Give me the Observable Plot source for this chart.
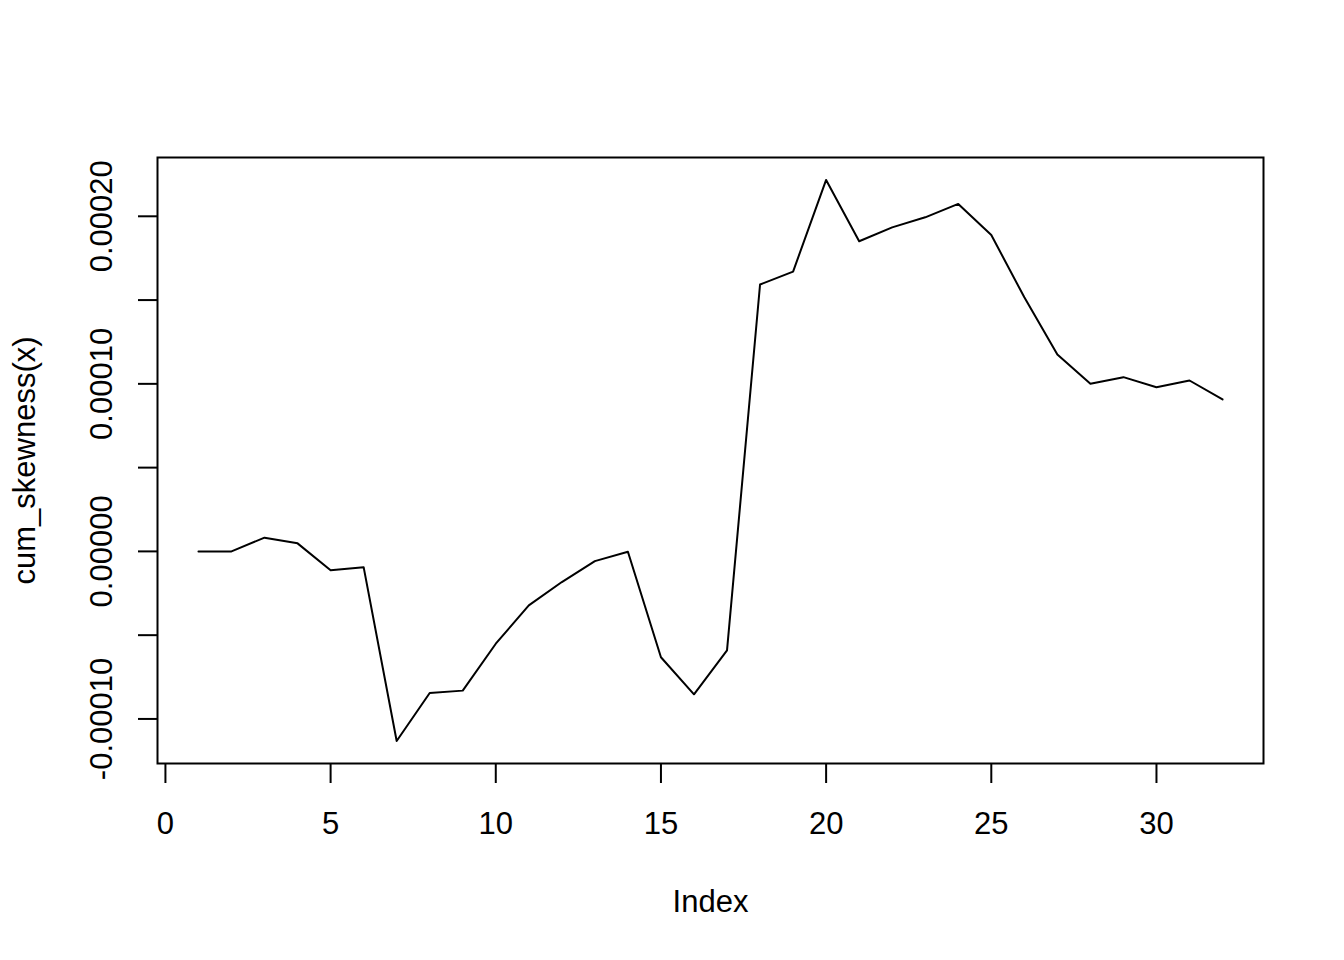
<!DOCTYPE html>
<html>
<head>
<meta charset="utf-8">
<script src="https://cdn.jsdelivr.net/npm/d3@7"></script>
<script src="https://cdn.jsdelivr.net/npm/@observablehq/plot@0.6"></script>
<style>
  html, body { margin: 0; padding: 0; background: white; }
</style>
</head>
<body>
<div id="chart"></div>
<script>
const indexValues = [1,2,3,4,5,6,7,8,9,10,11,12,13,14,15,16,17,18,19,20,21,22,23,24,25,26,27,28,29,30,31,32];
const cumSkewness = [
  0.0e-5, 0.0e-5, 0.82e-5, 0.48e-5, -1.13e-5, -0.94e-5, -11.32e-5, -8.45e-5,
  -8.31e-5, -5.51e-5, -3.22e-5, -1.83e-5, -0.58e-5, -0.02e-5, -6.32e-5, -8.53e-5,
  -5.91e-5, 15.93e-5, 16.70e-5, 22.17e-5, 18.51e-5, 19.34e-5, 19.94e-5, 20.74e-5,
  18.88e-5, 15.17e-5, 11.75e-5, 10.00e-5, 10.40e-5, 9.80e-5, 10.20e-5, 9.07e-5
];
const xTicks = [0, 5, 10, 15, 20, 25, 30];
const yTicks = [-0.0001, -0.00005, 0, 0.00005, 0.0001, 0.00015, 0.0002];
const yLabelTicks = [-0.0001, 0, 0.0001, 0.0002];
const yLabelText = ["-0.00010", "0.00000", "0.00010", "0.00020"];
const xTitle = "Index";
const yTitle = "cum_skewness(x)";

const data = indexValues.map((x, i) => ({x, y: cumSkewness[i]}));
const yLabels = yLabelTicks.map((v, i) => ({v, t: yLabelText[i]}));

const xmin = d3.min(indexValues), xmax = d3.max(indexValues);
const ymin = d3.min(cumSkewness), ymax = d3.max(cumSkewness);
const xpad = (xmax - xmin) * 0.04, ypad = (ymax - ymin) * 0.04;

const FS = 31;
const chart = Plot.plot({
  width: 1344,
  height: 960,
  marginLeft: 157,
  marginRight: 81,
  marginTop: 157,
  marginBottom: 197,
  style: {fontFamily: "'Liberation Sans', Arial, sans-serif", fontSize: FS + "px", background: "white", color: "black"},
  x: {domain: [xmin - xpad, xmax + xpad]},
  y: {domain: [ymin - ypad, ymax + ypad]},
  marks: [
    Plot.frame({stroke: "black", strokeWidth: 2}),
    Plot.axisX({ticks: xTicks, tickSize: 20, tickPadding: 28, strokeWidth: 2, fontSize: FS, label: null, tickFormat: d => String(d)}),
    Plot.axisY({ticks: yTicks, tickSize: 19, strokeWidth: 2, label: null, tickFormat: () => ""}),
    Plot.text(yLabels, {y: "v", text: "t", frameAnchor: "left", dx: -55, rotate: -90, textAnchor: "middle", lineAnchor: "middle", fontSize: FS, fill: "black"}),
    Plot.text([xTitle], {frameAnchor: "bottom", dy: 139, lineAnchor: "middle", textAnchor: "middle", fontSize: FS, fill: "black"}),
    Plot.text([yTitle], {frameAnchor: "left", dx: -132, rotate: -90, lineAnchor: "middle", textAnchor: "middle", fontSize: FS, fill: "black"}),
    Plot.line(data, {x: "x", y: "y", stroke: "black", strokeWidth: 2})
  ]
});
document.getElementById("chart").appendChild(chart);
</script>
</body>
</html>
